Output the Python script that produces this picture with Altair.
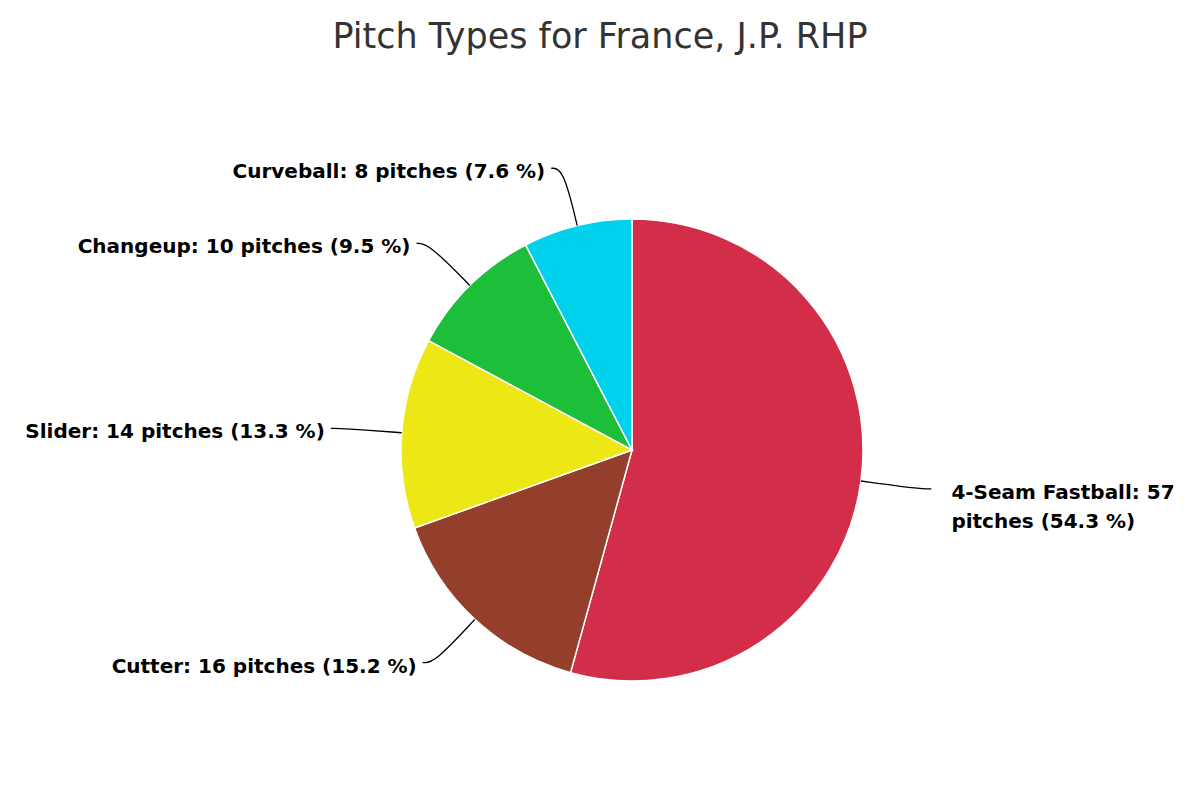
import altair as alt
import pandas as pd

pitch_types = ["4-Seam Fastball", "Cutter", "Slider", "Changeup", "Curveball"]
pitch_counts = [57, 16, 14, 10, 8]
pitch_colors = ["#D22D49", "#933F2C", "#EEE716", "#1DBE3A", "#00D1ED"]
chart_title = "Pitch Types for France, J.P. RHP"

df = pd.DataFrame({
    "pitch": pitch_types,
    "count": pitch_counts,
    "idx": list(range(len(pitch_types))),
})

W, H = 1174, 715
CX, CY = 619, 385
R = 231
RL = 290

xs = alt.Scale(domain=[-CX, W - CX], nice=False, zero=False)
ys = alt.Scale(domain=[-(H - CY), CY], nice=False, zero=False)

base = alt.Chart(df).transform_joinaggregate(
    total="sum(count)"
).transform_window(
    cum="sum(count)", sort=[alt.SortField("idx")], frame=[None, 0]
).transform_calculate(
    mid="(datum.cum - datum.count / 2) / datum.total * 2 * PI",
    pct="datum.count / datum.total * 100",
).transform_calculate(
    side="datum.mid < PI ? 'right' : 'left'",
    label="datum.pitch + ': ' + datum.count + (datum.mid < PI ? '\\n' : ' ') + 'pitches (' + format(datum.pct, '.1f') + ' %)'",
)

pie = alt.Chart(df).mark_arc(outerRadius=R, stroke="white", strokeWidth=1.5).encode(
    theta=alt.Theta("count:Q", stack=True),
    order=alt.Order("idx:Q"),
    color=alt.Color("pitch:N", scale=alt.Scale(domain=pitch_types, range=pitch_colors), legend=None),
    x=alt.value(CX),
    y=alt.value(CY),
)

lines = base.transform_calculate(
    steps="[0, 1, 2]"
).transform_flatten(["steps"]).transform_calculate(
    rr=f"datum.steps == 0 ? {R} : {RL}",
).transform_calculate(
    px="datum.rr * sin(datum.mid) + (datum.steps == 2 ? (datum.side == 'right' ? 12 : -12) : 0)",
    py="datum.rr * cos(datum.mid)",
).mark_line(color="black", strokeWidth=1.3, interpolate="basis").encode(
    x=alt.X("px:Q", scale=xs, axis=None),
    y=alt.Y("py:Q", scale=ys, axis=None),
    detail="pitch:N",
    order="steps:Q",
)

pos = base.transform_calculate(
    px=f"{RL} * sin(datum.mid) + (datum.side == 'right' ? 12 : -12)",
    py=f"{RL} * cos(datum.mid)",
)

text_style = dict(font="DejaVu Sans", fontSize=20, fontWeight="bold", color="black", lineBreak="\n")

left_labels = pos.transform_filter("datum.side == 'left'").mark_text(
    align="right", baseline="middle", dx=-6, dy=4, **text_style
).encode(
    x=alt.X("px:Q", scale=xs, axis=None),
    y=alt.Y("py:Q", scale=ys, axis=None),
    text="label:N",
)

right_labels = pos.transform_filter("datum.side == 'right'").mark_text(
    align="left", baseline="top", dx=20, dy=-6, lineHeight=29, **text_style
).encode(
    x=alt.X("px:Q", scale=xs, axis=None),
    y=alt.Y("py:Q", scale=ys, axis=None),
    text="label:N",
)

chart = alt.layer(pie, lines, left_labels, right_labels).properties(
    width=W,
    height=H,
    padding={"top": 12, "left": 5, "right": 5, "bottom": 5},
    title=alt.TitleParams(
        chart_title, font="DejaVu Sans", fontSize=35, fontWeight="normal",
        color="#333333", anchor="middle", offset=10,
    ),
).configure_view(stroke=None)

chart.save("out.html", embed_options={"renderer": "svg", "actions": False})
